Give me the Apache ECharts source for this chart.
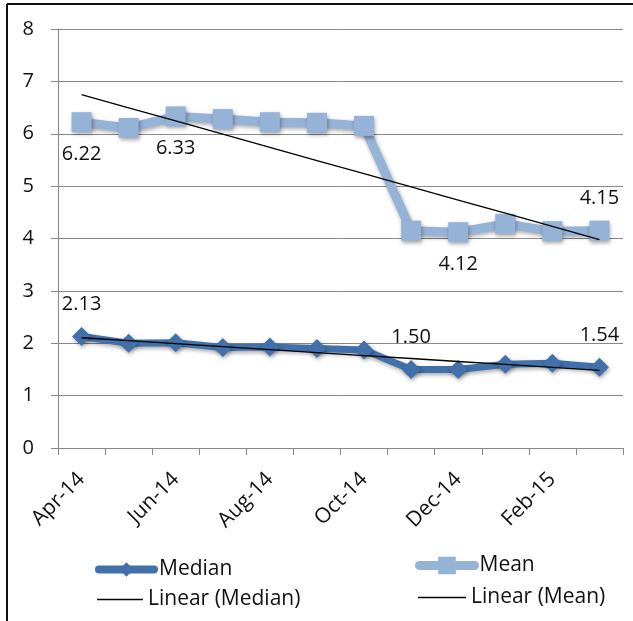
<!DOCTYPE html>
<html>
<head>
<meta charset="utf-8">
<script src="https://cdn.jsdelivr.net/npm/echarts@6/dist/echarts.min.js"></script>
<style>
  html, body { margin: 0; padding: 0; background: #fff; }
  #chart { width: 633px; height: 621px; }
</style>
</head>
<body>
<div id="chart"></div>
<script>
// Monthly categories (Apr 2014 – Mar 2015)
const months = ['Apr-14', 'May-14', 'Jun-14', 'Jul-14', 'Aug-14', 'Sep-14',
                'Oct-14', 'Nov-14', 'Dec-14', 'Jan-15', 'Feb-15', 'Mar-15'];

// Series values
const medianValues = [2.13, 2.00, 2.01, 1.92, 1.93, 1.90, 1.87, 1.50, 1.50, 1.60, 1.62, 1.54];
const meanValues   = [6.22, 6.11, 6.33, 6.28, 6.22, 6.21, 6.15, 4.15, 4.12, 4.28, 4.14, 4.15];

// Points that carry a value label, and where the label sits
const medianLabelled = { 0: 'top', 7: 'top', 11: 'top' };
const meanLabelled   = { 0: 'bottom', 2: 'bottom', 8: 'bottom', 11: 'top' };

// Y axis ticks
const yTicks = { min: 0, max: 8, interval: 1 };

const FONT = 'Open Sans';
const TEXT = '#111';
const MEDIAN_COLOR = '#4170AA';
const MEAN_COLOR = '#95B3D7';

// Least-squares linear trend over category index
function linearTrend(values) {
  const n = values.length;
  let sx = 0, sy = 0, sxx = 0, sxy = 0;
  values.forEach((y, x) => { sx += x; sy += y; sxx += x * x; sxy += x * y; });
  const slope = (n * sxy - sx * sy) / (n * sxx - sx * sx);
  const intercept = (sy - slope * sx) / n;
  return values.map((_, x) => +(intercept + slope * x).toFixed(4));
}

function withLabels(values, labelled, distance) {
  return values.map((v, i) => labelled[i] === undefined ? v : {
    value: v,
    label: {
      show: true,
      position: labelled[i],
      distance: distance,
      formatter: (p) => p.value.toFixed(2),
      fontFamily: FONT, fontSize: 20, color: TEXT
    }
  });
}

const shadow = { shadowColor: 'rgba(0,0,0,0.35)', shadowBlur: 4, shadowOffsetX: 1, shadowOffsetY: 2 };
const legendText = { fontFamily: FONT, fontSize: 21, color: TEXT };

const chart = echarts.init(document.getElementById('chart'), null, { renderer: 'canvas' });

chart.setOption({
  animation: false,
  backgroundColor: '#fff',
  textStyle: { fontFamily: FONT },
  grid: { left: 58, right: 10, top: 29, bottom: 173 },
  graphic: [
    { type: 'line', shape: { x1: 7, y1: 4, x2: 633, y2: 4 }, style: { stroke: '#111', lineWidth: 2 } },
    { type: 'line', shape: { x1: 7, y1: 4, x2: 7, y2: 621 }, style: { stroke: '#111', lineWidth: 2 } }
  ],
  legend: [
    { data: ['Median'], left: 95, top: 559, padding: 0, itemWidth: 55, itemHeight: 18,
      lineStyle: { width: 8, cap: 'round' },
      textStyle: legendText },
    { data: ['Mean'], left: 415, top: 555, padding: 0, itemWidth: 55, itemHeight: 22,
      lineStyle: { width: 9, cap: 'round' },
      textStyle: legendText },
    { data: [{ name: 'Linear (Median)', icon: 'rect' }], left: 97, top: 589, padding: 0,
      itemWidth: 46, itemHeight: 1.5, textStyle: legendText },
    { data: [{ name: 'Linear (Mean)', icon: 'rect' }], left: 418, top: 587, padding: 0,
      itemWidth: 48, itemHeight: 1.5, textStyle: legendText }
  ],
  xAxis: {
    type: 'category',
    data: months,
    boundaryGap: true,
    axisLine: { lineStyle: { color: '#888', width: 1 } },
    axisTick: { show: true, length: 7, alignWithLabel: false, interval: 0, lineStyle: { color: '#888' } },
    axisLabel: { interval: 1, rotate: 45, margin: 28, fontFamily: FONT, fontSize: 21, color: TEXT }
  },
  yAxis: {
    type: 'value',
    min: yTicks.min, max: yTicks.max, interval: yTicks.interval,
    axisLine: { show: true, lineStyle: { color: '#888', width: 1 } },
    axisTick: { show: true, length: 7, lineStyle: { color: '#888' } },
    axisLabel: { margin: 24, fontFamily: FONT, fontSize: 20, color: TEXT },
    splitLine: { lineStyle: { color: '#888', width: 1 } }
  },
  series: [
    {
      name: 'Median',
      type: 'line',
      data: withLabels(medianValues, medianLabelled, 13),
      symbol: 'diamond',
      symbolSize: 19,
      color: MEDIAN_COLOR,
      lineStyle: Object.assign({ width: 7, color: MEDIAN_COLOR }, shadow),
      itemStyle: Object.assign({ color: MEDIAN_COLOR }, shadow),
      z: 2
    },
    {
      name: 'Mean',
      type: 'line',
      data: withLabels(meanValues, meanLabelled, 12),
      symbol: 'rect',
      symbolSize: 20,
      color: MEAN_COLOR,
      lineStyle: Object.assign({ width: 9, color: MEAN_COLOR }, shadow),
      itemStyle: Object.assign({ color: MEAN_COLOR }, shadow),
      z: 2
    },
    {
      name: 'Linear (Median)',
      type: 'line',
      data: linearTrend(medianValues),
      symbol: 'none',
      color: '#000',
      lineStyle: { width: 1.3, color: '#000' },
      z: 3
    },
    {
      name: 'Linear (Mean)',
      type: 'line',
      data: linearTrend(meanValues),
      symbol: 'none',
      color: '#000',
      lineStyle: { width: 1.3, color: '#000' },
      z: 3
    }
  ]
});
</script>
</body>
</html>
